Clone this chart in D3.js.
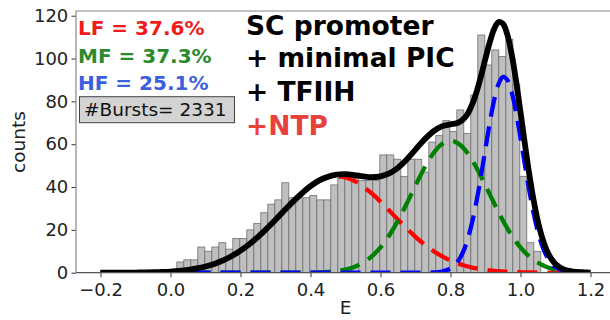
<!DOCTYPE html>
<html><head><meta charset="utf-8">
<script src="https://cdn.jsdelivr.net/npm/d3@7"></script>
<style>
html,body{margin:0;padding:0;background:#fff;}
svg{display:block;font-family:"DejaVu Sans",sans-serif;}
</style></head>
<body><svg id="c" width="610" height="320"></svg>
<script>
// ---- data ----
const binStart = 0.018;
const binWidth = 0.02;
const counts = [5,6,6,12,10,12,14,11,16,16,20,23,28,32,34,42,35,35,35,36,34,34,41,44,44,44,43,43,43,55,55,53,45,53,53,47,61,64,71,66,76,65,83,111,97,104,101,109,88,45,14,10];

const curveE = [-0.2,-0.175,-0.15,-0.125,-0.1,-0.075,-0.05,-0.025,0,0.025,0.05,0.075,0.1,0.125,0.15,0.175,0.2,0.225,0.25,0.275,0.3,0.325,0.35,0.375,0.4,0.425,0.45,0.475,0.5,0.525,0.55,0.575,0.6,0.625,0.65,0.675,0.7,0.725,0.75,0.775,0.8,0.8125,0.825,0.8375,0.85,0.8625,0.875,0.8875,0.9,0.9125,0.925,0.9375,0.95,0.9625,0.975,0.9875,1.0,1.0125,1.025,1.0375,1.05,1.0625,1.075,1.0875,1.1,1.125,1.15,1.175,1.2];
const lfCurve = [0,0.01,0.02,0.04,0.07,0.12,0.21,0.34,0.55,0.86,1.32,1.98,2.89,4.11,5.73,7.76,10.27,13.28,16.74,20.6,24.75,29.0,33.2,37.0,40.3,42.9,44.45,45,44.45,42.9,40.3,37.0,33.2,29.0,24.75,20.6,16.74,13.28,10.27,7.76,5.73,4.86,4.11,3.46,2.89,2.40,1.98,1.62,1.32,1.07,0.86,0.69,0.55,0.43,0.34,0.27,0.21,0.16,0.12,0.09,0.07,0.05,0.04,0.03,0.02,0.01,0.01,0,0];
const mfCurve = [0,0,0,0,0,0,0,0,0,0,0,0,0,0,0,0,0,0,0,0,0,0.01,0.01,0.04,0.08,0.18,0.39,0.78,1.50,2.71,4.66,7.60,11.8,17.4,24.3,32.3,40.75,48.8,55.55,60.0,61.6,61.2,60.0,58.1,55.55,52.4,48.8,44.9,40.75,36.5,32.3,28.2,24.3,20.7,17.4,14.4,11.8,9.53,7.60,5.99,4.66,3.57,2.71,2.03,1.50,0.78,0.39,0.18,0.08];
const hfCurve = [0,0,0,0,0,0,0,0,0,0,0,0,0,0,0,0,0,0,0,0,0,0,0,0,0,0,0,0,0,0,0,0,0,0,0,0,0,0.02,0.10,0.50,1.96,3.58,6.23,10.28,16.1,24.0,33.9,45.5,58.0,70.2,80.75,88.2,91.4,90.0,84.15,74.7,63.0,50.5,38.4,27.7,19.0,12.4,7.66,4.50,2.51,0.67,0.14,0.03,0];
const totalCurve = [0,0.01,0.02,0.04,0.07,0.12,0.21,0.34,0.55,0.86,1.32,1.98,2.89,4.11,5.73,7.76,10.27,13.28,16.74,20.6,24.75,29.0,33.2,37.0,40.4,43.1,44.8,45.8,46.0,45.6,45.0,44.6,45.0,46.4,49.05,52.9,57.5,62.1,65.9,68.3,69.3,69.6,70.3,71.8,74.5,78.8,84.7,92.0,100.1,107.8,113.9,117.1,116.25,111.1,101.9,89.4,75.0,60.2,46.1,33.8,23.7,16.0,10.4,6.6,4.0,1.46,0.54,0.21,0.08];

const xTicks = [-0.2,0.0,0.2,0.4,0.6,0.8,1.0,1.2];
const yTicks = [0,20,40,60,80,100,120];
const fractionLabels = ["LF = 37.6%","MF = 37.3%","HF = 25.1%"];
const burstsLabel = "#Bursts= 2331";
const titleLines = ["SC promoter","+ minimal PIC","+ TFIIH","+NTP"];

// ---- layout ----
const svg = d3.select("#c");
const L = 76, R = 615, T = 11, B = 272.7;
const x = d3.scaleLinear().domain([-0.27, 1.27]).range([L, R]);
const y = d3.scaleLinear().domain([0, 122.2]).range([B, T]);

svg.append("rect").attr("width",610).attr("height",320).attr("fill","#fff");
svg.append("defs").append("clipPath").attr("id","clip")
  .append("rect").attr("x",L).attr("y",T).attr("width",R-L).attr("height",B-T);

const plot = svg.append("g").attr("clip-path","url(#clip)");

// bars
plot.append("g").selectAll("rect").data(counts).join("rect")
  .attr("x",(d,i)=>x(binStart+i*binWidth))
  .attr("width",(d,i)=>x(binStart+(i+1)*binWidth)-x(binStart+i*binWidth))
  .attr("y",d=>y(d))
  .attr("height",d=>y(0)-y(d))
  .attr("fill","#bfbfbf").attr("stroke","#707070").attr("stroke-width",0.8);

const line = d3.line().x((d,i)=>x(curveE[i])).y(d=>y(d)).curve(d3.curveCatmullRom);

const comps = [[lfCurve,"#ff0000"],[mfCurve,"#008000"],[hfCurve,"#0000ff"]];
comps.forEach(([data,col])=>{
  plot.append("path").datum(data).attr("d",line)
    .attr("fill","none").attr("stroke",col).attr("stroke-width",4.3)
    .attr("stroke-dasharray","20,10");
});

plot.append("path").datum(totalCurve).attr("d",line)
  .attr("fill","none").attr("stroke","#000").attr("stroke-width",5.8);

// axes
const fs = "18px";
const gx = svg.append("g").attr("transform",`translate(0,${B})`)
  .call(d3.axisBottom(x).tickValues(xTicks).tickFormat(d3.format(".1f")).tickSize(4.5).tickPadding(6).tickSizeOuter(0));
const gy = svg.append("g").attr("transform",`translate(${L},0)`)
  .call(d3.axisLeft(y).tickValues(yTicks).tickSize(4.5).tickPadding(3.2).tickSizeOuter(0));
[gx,gy].forEach(g=>{
  g.select(".domain").remove();
  g.selectAll("text").attr("font-size",fs).attr("font-family","DejaVu Sans").attr("fill","#222");
  g.selectAll("line").attr("stroke","#333").attr("stroke-width",1);
});
// spines
svg.append("line").attr("x1",L).attr("x2",L).attr("y1",T).attr("y2",B).attr("stroke","#888").attr("stroke-width",1.2);
svg.append("line").attr("x1",L).attr("x2",R).attr("y1",T).attr("y2",T).attr("stroke","#888").attr("stroke-width",1.2);
svg.append("line").attr("x1",L).attr("x2",R).attr("y1",B).attr("y2",B).attr("stroke","#555").attr("stroke-width",1.2);

// axis labels
svg.append("text").attr("x",345.5).attr("y",314).attr("text-anchor","middle")
  .attr("font-size","18.5px").attr("fill","#222").text("E");
svg.append("text").attr("transform","translate(25,142) rotate(-90)").attr("text-anchor","middle")
  .attr("font-size","18.5px").attr("fill","#222").text("counts");

// fraction labels
const fracColors = ["#ee1b1b","#2b8a2b","#3c5fe0"];
const fracY = [35,63,90];
fractionLabels.forEach((t,i)=>{
  svg.append("text").attr("x",78).attr("y",fracY[i]).attr("font-size","20px").attr("font-weight","bold")
    .attr("fill",fracColors[i]).text(t);
});
// bursts box
svg.append("rect").attr("x",79.5).attr("y",96.7).attr("width",155).attr("height",26)
  .attr("fill","#d3d3d3").attr("stroke","#444").attr("stroke-width",1);
svg.append("text").attr("x",84).attr("y",115.5).attr("font-size","18.5px").attr("fill","#111").text(burstsLabel);

// title block
const titleY = [35,67,101,135];
const titleCol = ["#000","#000","#000","#e8413c"];
titleLines.forEach((t,i)=>{
  svg.append("text").attr("x",246).attr("y",titleY[i]).attr("font-size","26.5px").attr("font-weight","bold")
    .attr("fill",titleCol[i]).text(t);
});
</script></body></html>
